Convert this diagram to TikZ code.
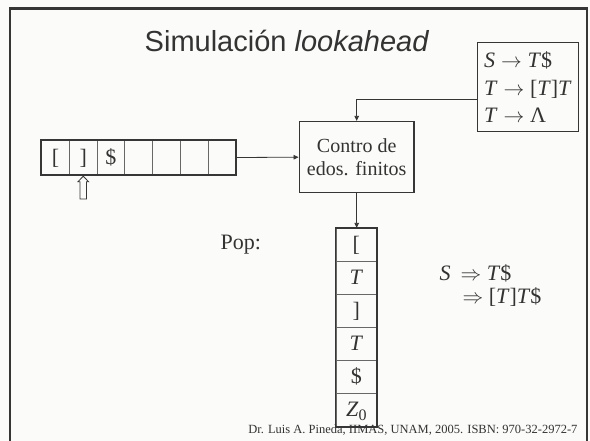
\documentclass[tikz,border=0pt]{standalone}
\usepackage{fontspec}
\setmainfont{Liberation Serif}
\setsansfont{Liberation Sans}
\usepackage{tikz}
\usetikzlibrary{positioning, arrows.meta, calc}
\definecolor{paper}{HTML}{FBFBF9}
\definecolor{ink}{HTML}{333333}
\definecolor{rule}{HTML}{363636}
\newcommand{\mv}[1]{\textit{#1}}

\begin{document}
\begin{tikzpicture}[x=1pt, y=-1pt, color=ink, font=\fontsize{22}{23}\selectfont,
    box/.style={draw=rule, line width=1.6pt, inner sep=0pt},
    cellbox/.style={draw=rule!75, line width=0.8pt, inner sep=0pt,
      text height=18pt, text depth=4pt},
    link/.style={draw=rule, line width=0.8pt, -{Triangle[length=5pt, width=4.5pt]}}]
  \fill[paper] (0,0) rectangle (590,441);
  \useasboundingbox (0,0) rectangle (590,441);
  \draw[rule, line width=2.6pt] (10,441) |- (587,8.5) -- (587,441);

  \node[anchor=base, font=\sffamily\fontsize{29}{30}\selectfont] (title) at (287,52)
    {Simulación \textit{lookahead}};

  % grammar and finite control
  \node[draw=rule, line width=1pt, anchor=north west, align=left,
        minimum width=100.4pt, minimum height=88.7pt, inner xsep=6pt,
        font=\fontsize{22}{27.5}\selectfont] (gram) at (477.3,42.3)
    {\mv{S}$\;\rightarrow\;$\mv{T}\$\\
     \mv{T}$\;\rightarrow\;$[\mv{T}]\mv{T}\\
     \mv{T}$\;\rightarrow\;$Λ};
  \node[box, minimum width=114.7pt, minimum height=71pt, align=center,
        font=\fontsize{20}{23}\selectfont] (ctrl) at (356.7,157.2)
    {Contro de\\edos. finitos};

  % input tape
  \def\cw{27.71}
  \foreach \sym [count=\i from 0] in {{[}, {]}, {\$}, {}, {}, {}, {}} {
    \pgfmathsetmacro{\xx}{41.7+(\i+0.5)*\cw}
    \node[cellbox, minimum width=\cw pt, minimum height=33.6pt] (tape\i) at (\xx,157.5) {\sym};
  }
  \draw[rule, line width=1.8pt] (tape0.north west) rectangle (tape6.south east);

  % head of the tape
  \coordinate (ptr) at ([yshift=-1.5pt]tape1.south);
  \draw[rule, line width=0.8pt, fill=paper] (ptr) -- ++(5.3,5.5) -- ++(-2.1,0) -- ++(0,17.3)
    -- ++(-6.4,0) -- ++(0,-17.3) -- ++(-2.1,0) -- cycle;

  % stack
  \def\ch{33}
  \foreach \sym [count=\i from 0] in {{[}, \mv{T}, {]}, \mv{T}, {\$},
      \mv{Z}\raisebox{-4pt}{\fontsize{16}{16}\selectfont 0}} {
    \pgfmathsetmacro{\yy}{228.3+(\i+0.5)*\ch}
    \node[cellbox, minimum width=40.7pt, minimum height=\ch pt] (stk\i) at (356.3,\yy) {\sym};
  }
  \draw[rule, line width=1.8pt] (stk0.north west) rectangle (stk5.south east);

  \node[anchor=base west] (pop) at (217,250) {Pop:};
  \node[anchor=base west] (deriv) at (436,281)
    {\begin{tabular}[t]{@{}l@{\hspace{10pt}}l@{}}
       \mv{S} & $\Rightarrow$ \mv{T}\$\\
              & \hspace{2pt}$\Rightarrow$ [\mv{T}]\mv{T}\$
     \end{tabular}};

  \coordinate (gin) at ([yshift=-12.3pt]gram.west);
  \draw[link] (tape6.east) -- (ctrl.west);
  \draw[link] (gin) -| (ctrl.north);
  \draw[link] (ctrl.south) -- (ctrl.south |- stk0.north);

  \node[anchor=base east, font=\fontsize{12.5}{13}\selectfont] (credit) at (581,433)
    {Dr. Luis A. Pineda, IIMAS, UNAM, 2005. ISBN: 970-32-2972-7};
\end{tikzpicture}
\end{document}
